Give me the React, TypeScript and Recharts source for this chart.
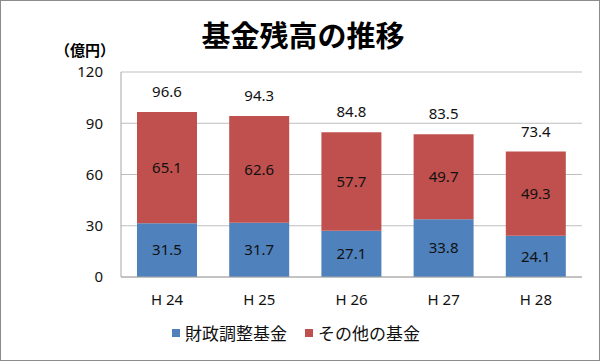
import { BarChart, Bar, XAxis, YAxis, CartesianGrid, Legend, LabelList } from 'recharts';

const years = ['H 24', 'H 25', 'H 26', 'H 27', 'H 28'];
const zaiseiValues = [31.5, 31.7, 27.1, 33.8, 24.1];
const sonotaValues = [65.1, 62.6, 57.7, 49.7, 49.3];
const totalValues = [96.6, 94.3, 84.8, 83.5, 73.4];
const yTicks = [0, 30, 60, 90, 120];
const legendItems = [
  { name: '財政調整基金', color: '#4f81bd' },
  { name: 'その他の基金', color: '#c0504d' },
];

const data = years.map((year, i) => ({
  year,
  zaisei: zaiseiValues[i],
  sonota: sonotaValues[i],
  total: totalValues[i],
}));

const FONT = '"Noto Sans", "Noto Sans CJK JP", sans-serif';
const JP = '"Noto Sans CJK JP", sans-serif';

// total above the stack
const TotalLabel = (props: any) => {
  const { x, y, width, index } = props;
  return (
    <text x={x + width / 2} y={y - 19} textAnchor="middle" dominantBaseline="middle"
      fontSize={15} fill="#111" fontFamily={FONT}>
      {totalValues[index].toFixed(1)}
    </text>
  );
};

const LegendBox = () => (
  <div style={{ display: 'flex', justifyContent: 'center', gap: 18, fontFamily: JP, fontSize: 17, lineHeight: '20px', color: '#111', paddingLeft: 10 }}>
    {legendItems.map((it) => (
      <div key={it.name} style={{ display: 'flex', alignItems: 'center' }}>
        <span style={{ width: 8, height: 8, background: it.color, marginRight: 5, display: 'inline-block' }} />
        {it.name}
      </div>
    ))}
  </div>
);

export default function App() {
  return (
    <div style={{ position: 'fixed', top: 0, left: 0, width: 600, height: 361, background: '#fff', fontFamily: FONT }}>
      <div style={{ position: 'absolute', inset: 0, border: '1px solid #8c8c8c', boxSizing: 'border-box', pointerEvents: 'none' }} />
      <div style={{ position: 'absolute', top: 13, left: 0, width: 600, textAlign: 'center', fontSize: 29, fontWeight: 'bold', color: '#000', fontFamily: JP, paddingLeft: 6, boxSizing: 'border-box' }}>
        基金残高の推移
      </div>
      <div style={{ position: 'absolute', top: 39, left: 55, fontSize: 15, fontWeight: 'bold', color: '#000', fontFamily: JP }}>
        （億円）
      </div>
      <BarChart width={600} height={361} data={data}
        margin={{ top: 72, right: 18, bottom: 0, left: 0 }}>
        <CartesianGrid vertical={false} stroke="#bfbfbf" />
        <XAxis dataKey="year" tickLine={false} axisLine={{ stroke: '#a6a6a6' }} tickMargin={11}
          tick={{ fontSize: 15, fill: '#111', fontFamily: FONT }} height={46} />
        <YAxis domain={[0, 120]} ticks={yTicks} width={121} tickLine={false} tickMargin={12}
          axisLine={{ stroke: '#a6a6a6' }} tick={{ fontSize: 15, fill: '#111', fontFamily: FONT }} />
        <Legend verticalAlign="bottom" height={38} content={LegendBox} />
        <Bar dataKey="zaisei" name="財政調整基金" stackId="a" fill="#4f81bd" barSize={60} isAnimationActive={false}>
          <LabelList dataKey="zaisei" position="center" fill="#111" fontSize={15} fontFamily={FONT}
            formatter={(v: any) => Number(v).toFixed(1)} />
        </Bar>
        <Bar dataKey="sonota" name="その他の基金" stackId="a" fill="#c0504d" barSize={60} isAnimationActive={false}>
          <LabelList dataKey="sonota" position="center" fill="#111" fontSize={15} fontFamily={FONT}
            formatter={(v: any) => Number(v).toFixed(1)} />
          <LabelList dataKey="total" content={TotalLabel} />
        </Bar>
      </BarChart>
    </div>
  );
}
